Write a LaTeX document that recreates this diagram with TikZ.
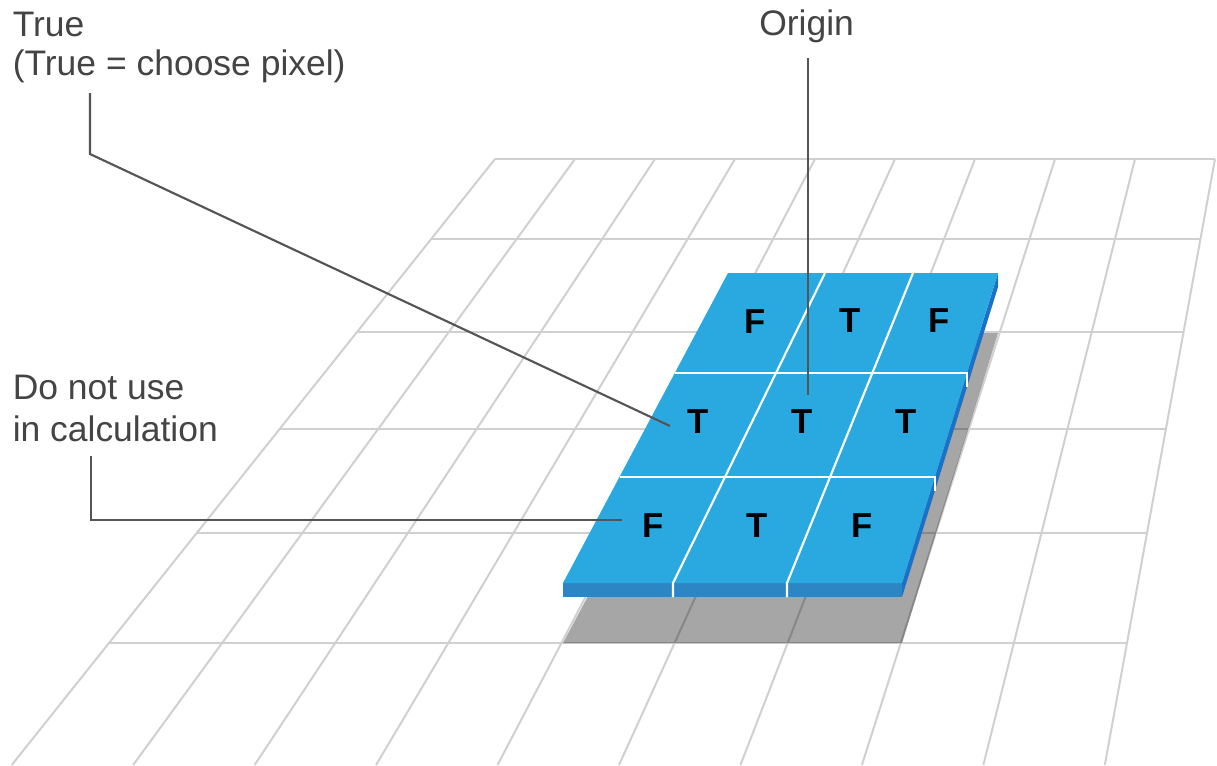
\documentclass[tikz,border=0pt]{standalone}
\usepackage{fontspec}
\setmainfont{Liberation Sans}
\definecolor{gridgray}{HTML}{D0D0D0}
\definecolor{topblue}{HTML}{2AA9E1}
\definecolor{frontblue}{HTML}{2C86C4}
\definecolor{sideblue}{HTML}{1B70C8}
\definecolor{labelgray}{HTML}{444444}
\definecolor{leadergray}{HTML}{555555}
\begin{document}
\begin{tikzpicture}[x=0.75pt,y=-0.75pt,
  gridh/.style={draw=gridgray,line width=2.2pt},
  gridv/.style={draw=gridgray,line width=1.5pt},
  whiteline/.style={draw=white,line width=1.6pt},
  cellmark/.style={font=\fontsize{26}{30}\selectfont\bfseries,text=black,inner sep=0pt},
  lbl/.style={font=\fontsize{26.6}{30}\selectfont,text=labelgray,inner sep=0pt,anchor=base west},
  leader/.style={draw=leadergray,line width=1.6pt}]
\useasboundingbox (0,0) rectangle (1217,765);
\fill[white] (0,0) rectangle (1217,765);
\begin{scope}
\clip (0,0) rectangle (1217,765);
% perspective grid: horizontal lines
\foreach \yy in {159,239,332,429,533,643}{
  \pgfmathsetmacro\xl{495-(\yy-159)*0.7975}
  \pgfmathsetmacro\xr{1215-(\yy-159)*0.1818}
  \draw[gridh] (\xl,\yy) -- (\xr,\yy);
}
% converging lines
\foreach \j in {0,...,9}{
  \pgfmathsetmacro\xt{495+80*\j}
  \pgfmathsetmacro\xb{109+113.11*\j}
  \pgfmathsetmacro\xe{\xt+1.2521*(\xb-\xt)}
  \draw[gridv] (\xt,159) -- (\xe,765);
}
\end{scope}
% shadow
\fill[black,fill opacity=0.35] (728,333) -- (998,333) -- (902,643) -- (563,643) -- cycle;
% slab
\fill[sideblue] (998,273) -- (998,287) -- (902,597) -- (902,583) -- cycle;
\fill[frontblue] (563,583) rectangle (902,597);
\fill[topblue] (728,273) -- (998,273) -- (902,583) -- (563,583) -- cycle;
% white separators
\draw[whiteline] (674.7,373) -- (967,373) -- (967,387);
\draw[whiteline] (619.5,477) -- (934.8,477) -- (934.8,491);
\draw[whiteline] (825,273) -- (673,583) -- (673,597);
\draw[whiteline] (913,273) -- (787,583) -- (787,597);
% cell marks
\node[cellmark] (c11) at (755,322) {F};
\node[cellmark] (c12) at (850,321) {T};
\node[cellmark] (c13) at (939,321) {F};
\node[cellmark] (c21) at (698,422) {T};
\node[cellmark] (c22) at (802,422) {T};
\node[cellmark] (c23) at (906,422) {T};
\node[cellmark] (c31) at (653,526) {F};
\node[cellmark] (c32) at (757,526) {T};
\node[cellmark] (c33) at (862,526) {F};
% labels
\node[lbl] (trueA) at (12.5,36) {True};
\node[lbl] (trueB) at (12.5,75) {(True = choose pixel)};
\node[lbl] (origin) at (759,35) {Origin};
\node[lbl] (dontA) at (12.5,399) {Do not use};
\node[lbl] (dontB) at (12.5,441) {in calculation};
% leaders
\coordinate (tA) at (90,93);
\coordinate (tB) at (90,154);
\coordinate (tE) at (670,426);
\coordinate (oA) at (808,58);
\coordinate (oE) at (808,395);
\coordinate (dA) at (91,456);
\coordinate (dB) at (91,520);
\coordinate (dE) at (622,520);
\draw[leader] (tA) -- (tB) -- (tE);
\draw[leader] (oA) -- (oE);
\draw[leader] (dA) -- (dB) -- (dE);
\end{tikzpicture}
\end{document}
